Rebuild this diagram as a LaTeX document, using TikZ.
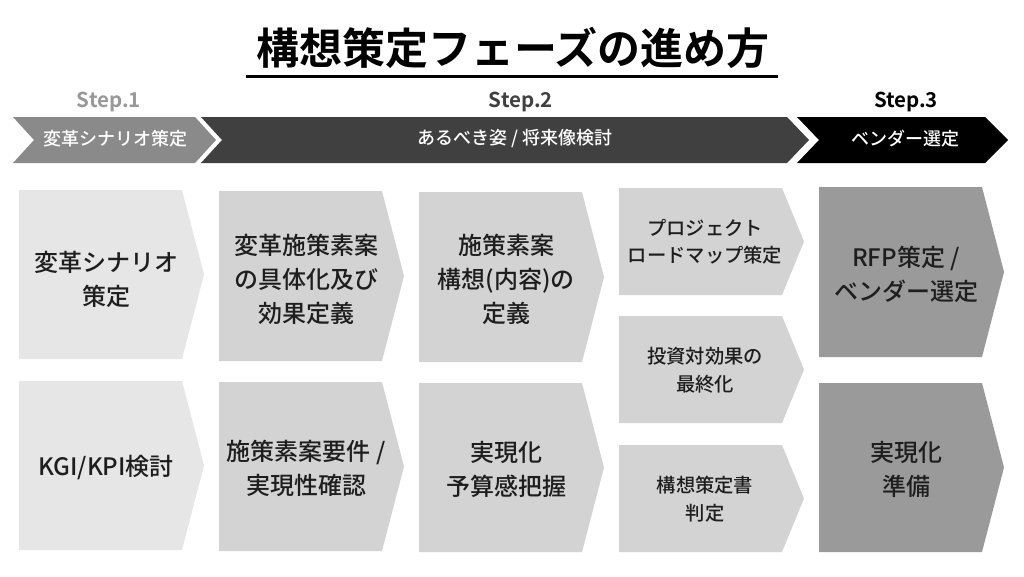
\documentclass[tikz,border=0pt]{standalone}
\usepackage{fontspec}
\setmainfont{Noto Sans CJK JP}[UprightFont=* Medium, BoldFont=* Bold]
\definecolor{ban1}{HTML}{8A8A8A}
\definecolor{ban2}{HTML}{404040}
\definecolor{ban3}{HTML}{000000}
\definecolor{boxA}{HTML}{E6E6E6}
\definecolor{boxB}{HTML}{D3D3D3}
\definecolor{boxC}{HTML}{9A9A9A}
\definecolor{txtc}{HTML}{1E1E1E}
\newcommand\chevshape[4]{%
  \fill[#4] (#1,#2) -- ({#1+163},#2) -- ({#1+185},{(#2+#3)/2}) -- ({#1+163},#3) -- (#1,#3) -- cycle;}
\tikzset{
  txt/.style={align=center, inner sep=0pt, text=txtc, font=\fontsize{24}{34}\selectfont},
  smalltxt/.style={align=center, inner sep=0pt, text=txtc, font=\fontsize{19.3}{27.5}\selectfont},
  bantxt/.style={inner sep=0pt, text=white, font=\fontsize{18}{21}\selectfont},
  steplbl/.style={inner sep=0pt, anchor=base, font=\bfseries\fontsize{20.5}{24}\selectfont},
}
\begin{document}
\begin{tikzpicture}[x=1pt,y=-1pt]
\useasboundingbox (0,0) rectangle (1024,576);
\fill[white] (0,0) rectangle (1024,576);
% title
\node[inner sep=0pt, font=\bfseries\fontsize{43}{48}\selectfont] (title) at (513,48) {構想策定フェーズの進め方};
\coordinate (ulL) at (246,76);
\coordinate (ulR) at (778,76);
\draw[line width=3pt] (ulL) -- (ulR);
% step labels
\node[steplbl, text=black!40] (s1) at (109,107) {Step.1};
\node[steplbl, text=black!75] (s2) at (521,107) {Step.2};
\node[steplbl, text=black] (s3) at (906,107) {Step.3};
% banners
\fill[ban1] (13,117) -- (195,117) -- (216,140) -- (195,163) -- (13,163) -- (34,140) -- cycle;
\fill[ban2] (201,117) -- (787,117) -- (809,140) -- (787,163) -- (201,163) -- (222,140) -- cycle;
\fill[ban3] (797,117) -- (985,117) -- (1008,140) -- (985,163) -- (797,163) -- (819,140) -- cycle;
\node[bantxt] (b1) at (115,139) {変革シナリオ策定};
\node[bantxt] (b2) at (515,139) {あるべき姿 / 将来像検討};
\node[bantxt] (b3) at (905,139) {ベンダー選定};
% column 1
\chevshape{19}{190}{359}{boxA}
\chevshape{19}{381}{550}{boxA}
\node[txt] (c1a) at (106,279) {変革シナリオ\\策定};
\node[txt] (c1b) at (106,468) {KGI/KPI検討};
% column 2
\chevshape{219}{191}{361}{boxB}
\chevshape{219}{382}{551}{boxB}
\node[txt] (c2a) at (306,279) {変革施策素案\\の具体化及び\\効果定義};
\node[txt] (c2b) at (306,468) {施策素案要件 /\\実現性確認};
% column 3
\chevshape{419}{192}{362}{boxB}
\chevshape{419}{383}{552}{boxB}
\node[txt] (c3a) at (506,279) {施策素案\\構想(内容)の\\定義};
\node[txt] (c3b) at (506,469) {実現化\\予算感把握};
% column 4
\chevshape{619}{188}{295}{boxB}
\chevshape{619}{316}{423}{boxB}
\chevshape{619}{445}{552}{boxB}
\node[smalltxt] (c4a) at (705,242) {プロジェクト\\ロードマップ策定};
\node[smalltxt] (c4b) at (705,370) {投資対効果の\\最終化};
\node[smalltxt] (c4c) at (705,499) {構想策定書\\判定};
% column 5
\chevshape{819}{187}{357}{boxC}
\chevshape{819}{383}{552}{boxC}
\node[txt] (c5a) at (906,274) {RFP策定 /\\ベンダー選定};
\node[txt] (c5b) at (906,469) {実現化\\準備};
\end{tikzpicture}
\end{document}
